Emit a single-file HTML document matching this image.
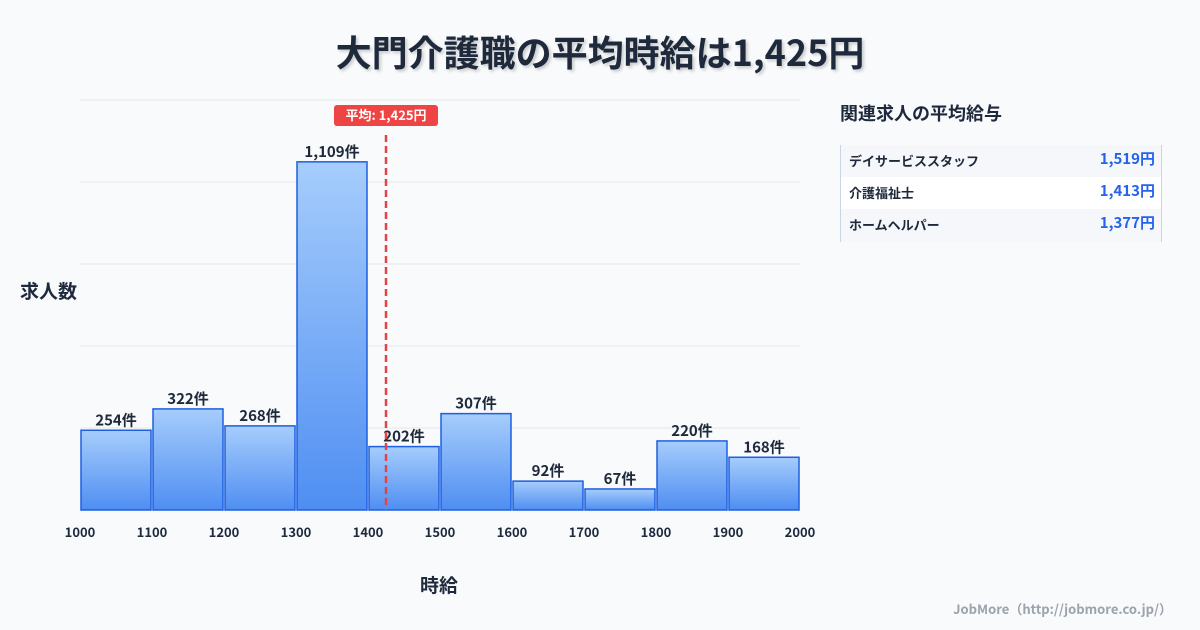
<!DOCTYPE html>
<html><head><meta charset="utf-8"><style>
body{margin:0;width:1200px;height:630px;background:#f8fafc;font-family:"Noto Sans CJK JP","Liberation Sans",sans-serif;overflow:hidden;position:relative}
.t{position:absolute;white-space:nowrap;line-height:1.2}
</style></head><body>
<div class="t" style="left:0;width:1200px;top:30px;text-align:center;font-size:36px;font-weight:bold;color:#1e293b;text-shadow:2px 2px 3px rgba(0,0,0,0.2)">大門介護職の平均時給は1,425円</div>
<div class="t" style="left:20px;top:280px;font-size:19px;font-weight:bold;color:#1e293b">求人数</div>
<div class="t" style="left:420px;top:574px;font-size:19px;font-weight:bold;color:#1e293b">時給</div>
<svg id="chart" width="1200" height="630" style="position:absolute;left:0;top:0;font-family:'Noto Sans CJK JP','Liberation Sans',sans-serif">
<defs><linearGradient id="g" x1="0" y1="0" x2="0" y2="1"><stop offset="0" stop-color="#a6cdfc"/><stop offset="1" stop-color="#4f8ef2"/></linearGradient></defs>
</svg>
<div class="t" style="left:840px;top:103px;font-size:18px;font-weight:bold;color:#1e293b">関連求人の平均給与</div>
<div style="position:absolute;left:840px;top:145px;width:320px;height:97px;border-left:1px solid #cbd5e1;border-right:1px solid #cbd5e1">
<div style="height:32px;background:#f5f7fa;position:relative"><span class="t" style="left:8px;top:8px;font-size:13px;font-weight:bold;color:#1e293b">デイサービススタッフ</span><span class="t" style="right:6px;top:5px;font-size:15px;font-weight:bold;color:#2563eb">1,519円</span></div>
<div style="height:32px;background:#fff;position:relative"><span class="t" style="left:8px;top:8px;font-size:13px;font-weight:bold;color:#1e293b">介護福祉士</span><span class="t" style="right:6px;top:5px;font-size:15px;font-weight:bold;color:#2563eb">1,413円</span></div>
<div style="height:33px;background:#f5f7fa;position:relative"><span class="t" style="left:8px;top:8px;font-size:13px;font-weight:bold;color:#1e293b">ホームヘルパー</span><span class="t" style="right:6px;top:5px;font-size:15px;font-weight:bold;color:#2563eb">1,377円</span></div>
</div>
<div class="t" style="right:28px;top:601px;font-size:13px;font-weight:bold;color:#9ca3af">JobMore（http://jobmore.co.jp/）</div>
<script>
const binStarts=[1000,1100,1200,1300,1400,1500,1600,1700,1800,1900];
const counts=[254,322,268,1109,202,307,92,67,220,168];
const xTicks=[1000,1100,1200,1300,1400,1500,1600,1700,1800,1900,2000];
const average=1425;
const svg=document.getElementById('chart');const NS='http://www.w3.org/2000/svg';
const x0=80,x1=800,y0=510,yTop=100,xmin=1000,xmax=2000,ymax=1306;
const X=v=>x0+(v-xmin)/(xmax-xmin)*(x1-x0);
const Y=v=>y0-v/ymax*(y0-yTop);
function mk(t,a){const e=document.createElementNS(NS,t);for(const k in a)e.setAttribute(k,a[k]);svg.appendChild(e);return e;}
for(let i=0;i<=5;i++){const y=y0-i*(y0-yTop)/5;const l=mk('line',{x1:x0,x2:x1,y1:y,y2:y,stroke:'#e5e7eb','stroke-width':1});

}
counts.forEach((c,i)=>{const xa=X(binStarts[i])+1,xb=X(binStarts[i]+100)-1;
const r=mk('rect',{x:xa,y:Y(c),width:xb-xa,height:y0-Y(c),fill:'url(#g)',stroke:'#1d5fe0','stroke-width':1.5});


const t=mk('text',{x:(xa+xb)/2,y:Y(c)-5,'text-anchor':'middle','font-size':15,'font-weight':'bold',fill:'#1e293b'});t.textContent=c.toLocaleString('en-US')+'件';

});
xTicks.forEach(v=>{const t=mk('text',{x:X(v),y:537,'text-anchor':'middle','font-size':13,'font-weight':'bold',fill:'#1e293b'});t.textContent=v;

});
const ax=X(average);
const al=mk('line',{x1:ax,x2:ax,y1:135,y2:y0,stroke:'#e04545','stroke-width':2.5,'stroke-dasharray':'7,4'});


const ab=mk('rect',{x:ax-52,y:105,width:104,height:21,rx:3,fill:'#ef4444'});


const at=mk('text',{x:ax,y:120,'text-anchor':'middle','font-size':13,'font-weight':'bold',fill:'#fff'});at.textContent='平均: 1,425円';


</script>
</body></html>
